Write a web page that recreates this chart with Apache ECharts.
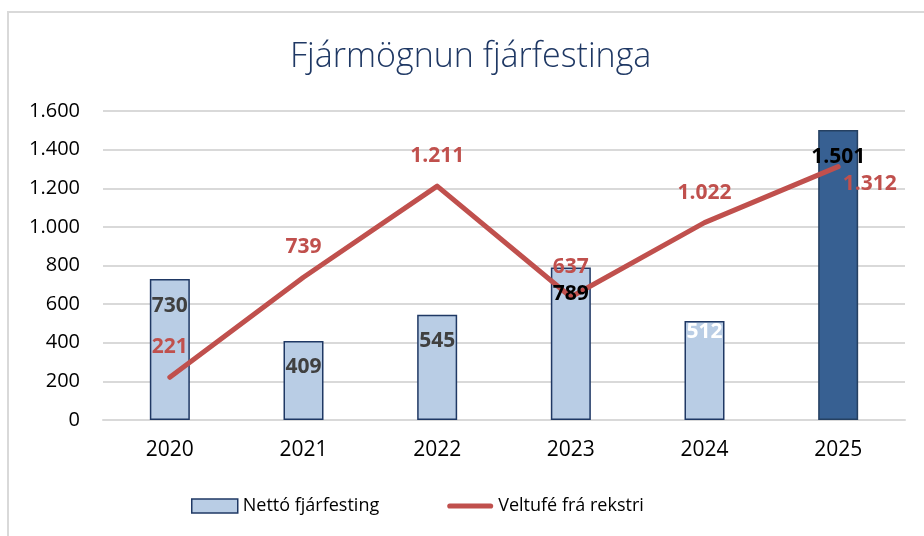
<!DOCTYPE html>
<html lang="is">
<head>
    <meta charset="UTF-8">
    <title>Fjármögnun fjárfestinga</title>
    <script src="https://cdn.jsdelivr.net/npm/echarts@6/dist/echarts.min.js"></script>
    <style>
        html, body { margin: 0; padding: 0; background: #fff; }
        #main { width: 924px; height: 536px; }
    </style>
</head>
<body>
<div id="main"></div>
<script>
    // gögn
    var years = ['2020', '2021', '2022', '2023', '2024', '2025'];
    var nettoFjarfesting = [730, 409, 545, 789, 512, 1501];
    var veltufe = [221, 739, 1211, 637, 1022, 1312];

    function fmt(v) {
        return String(v).replace(/\B(?=(\d{3})+(?!\d))/g, '.');
    }

    var FONT = '"Open Sans", "Noto Sans", sans-serif';

    // súlur - 2025 dekkri
    var barData = nettoFjarfesting.map(function (v, i) {
        if (i === 5) return { value: v, itemStyle: { color: '#376092', borderColor: '#254061' } };
        return v;
    });

    // merkingar súlna sér, svo þær lendi ofan á línunni
    var barLabelData = nettoFjarfesting.map(function (v, i) {
        var item = { value: v, label: {} };
        if (i === 3 || i === 5) item.label.color = '#000';
        if (i === 4) { item.label.color = '#fff'; item.label.offset = [0, -16]; }
        return item;
    });

    var lineData = veltufe.map(function (v, i) {
        var item = { value: v };
        if (i === 5) item.label = { position: 'right', distance: 0, offset: [4, 17] };
        return item;
    });

    var chart = echarts.init(document.getElementById('main'));
    chart.setOption({
        animation: false,
        textStyle: { fontFamily: FONT },
        title: {
            text: 'Fjármögnun fjárfestinga',
            left: 285,
            top: 35,
            textStyle: { fontSize: 34, fontWeight: 300, color: '#1f3864', fontFamily: FONT }
        },
        graphic: [{
            type: 'rect',
            shape: { x: 8, y: 12, width: 1000, height: 1000 },
            style: { fill: 'none', stroke: '#d9d9d9', lineWidth: 2 },
            silent: true
        }],
        grid: { left: 103, right: 19, top: 111, bottom: 116 },
        legend: {
            bottom: 16,
            left: 186,
            itemGap: 68,
            itemWidth: 46,
            itemHeight: 14,
            textStyle: { fontSize: 18, color: '#000', fontFamily: FONT },
            data: [
                { name: 'Nettó fjárfesting', icon: 'rect', itemStyle: { color: '#b9cde5', borderColor: '#1f3864', borderWidth: 1.5 } },
                { name: 'Veltufé frá rekstri', icon: 'path://M2,0 H42 A2,2 0 0 1 42,5 H2 A2,2 0 0 1 2,0 Z', itemStyle: { color: '#c0504d' } }
            ]
        },
        xAxis: {
            type: 'category',
            data: years,
            axisTick: { show: false },
            axisLine: { lineStyle: { color: '#d9d9d9', width: 2 } },
            axisLabel: { fontSize: 21, color: '#000', margin: 20 }
        },
        yAxis: {
            type: 'value',
            min: 0,
            max: 1600,
            interval: 200,
            axisLine: { show: false },
            axisTick: { show: false },
            splitLine: { lineStyle: { color: '#d9d9d9', width: 2 } },
            axisLabel: {
                fontSize: 20, color: '#000', margin: 23,
                formatter: function (v) { return fmt(v); }
            }
        },
        series: [
            {
                name: 'Nettó fjárfesting',
                type: 'bar',
                barWidth: 40,
                data: barData,
                itemStyle: { color: '#b9cde5', borderColor: '#1f3864', borderWidth: 1.5 },
                z: 1
            },
            {
                name: 'Veltufé frá rekstri',
                type: 'line',
                data: lineData,
                symbol: 'circle',
                symbolSize: 1,
                showSymbol: true,
                lineStyle: { color: '#c0504d', width: 5, cap: 'round', join: 'round' },
                itemStyle: { color: '#c0504d' },
                label: {
                    show: true,
                    position: 'top',
                    distance: 19,
                    fontSize: 21,
                    fontWeight: 'bold',
                    color: '#c0504d',
                    formatter: function (p) { return fmt(p.value); }
                },
                z: 2
            },
            {
                name: 'merkingar',
                type: 'bar',
                barWidth: 40,
                barGap: '-100%',
                silent: true,
                data: barLabelData,
                itemStyle: { color: 'rgba(0,0,0,0)' },
                label: {
                    show: true,
                    position: 'insideTop',
                    distance: 16,
                    fontSize: 21,
                    fontWeight: 'bold',
                    color: '#404040',
                    formatter: function (p) { return fmt(p.value); }
                },
                z: 3
            }
        ]
    });
</script>
</body>
</html>
